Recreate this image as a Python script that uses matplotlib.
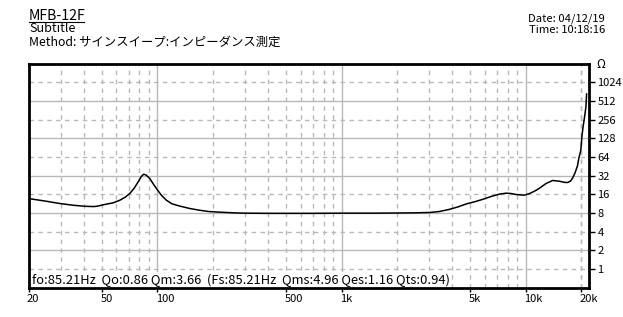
import matplotlib
matplotlib.use("Agg")
import matplotlib.pyplot as plt
from matplotlib.lines import Line2D
import matplotlib.transforms as mtrans
import numpy as np

plt.rcParams['font.family'] = ['Noto Sans CJK JP', 'DejaVu Sans']
plt.rcParams['lines.scale_dashes'] = False

title = "MFB-12F"
subtitle = "Subtitle"
method = "Method: サインスイープ:インピーダンス測定"
date_txt = "Date: 04/12/19"
time_txt = "Time: 10:18:16"
info_txt = "fo:85.21Hz  Qo:0.86 Qm:3.66  (Fs:85.21Hz  Qms:4.96 Qes:1.16 Qts:0.94)"

freq = [20, 25, 29.6, 35, 40.5, 45, 47, 51, 57.7, 62.7, 67, 70.9, 75, 78.7, 82, 84.5,
        87, 91.1, 95, 99, 105, 112, 120, 132, 150, 170, 190, 218, 260, 300, 400, 500,
        700, 1000, 1500, 2000, 2500, 3000, 3400, 3850, 4300, 4740, 5300, 5840, 6500,
        7190, 7820, 8300, 8860, 9820, 10500, 11200, 11800, 12900, 14000, 15200, 16200,
        16900, 17500, 17900, 18500, 19100, 19400, 19900, 20200, 20500, 20800, 21200, 21400]
imped = [13.6, 12.3, 11.3, 10.6, 10.2, 10.1, 10.2, 10.8, 11.6, 12.8, 14.3, 16.4, 20.0, 25.2, 31.0, 33.6,
         32.5, 28.6, 23.5, 19.7, 15.5, 12.8, 11.2, 10.3, 9.4, 8.8, 8.4, 8.2, 8.0, 7.9, 7.85, 7.85,
         7.85, 7.9, 7.9, 7.95, 8.0, 8.1, 8.4, 9.1, 10.0, 11.1, 12.1, 13.2, 14.7,
         16.0, 16.6, 16.4, 15.8, 15.4, 16.4, 18.0, 19.7, 23.8, 26.6, 25.9, 24.8,
         24.7, 26.0, 28.6, 35.0, 46.0, 60.0, 82.0, 140.0, 200.0, 265.0, 400.0, 660.0]

xtick_vals = [20, 50, 100, 500, 1000, 5000, 10000, 20000]
xtick_labels = ["20", "50", "100", "500", "1k", "5k", "10k", "20k"]
ytick_vals = [1, 2, 4, 8, 16, 32, 64, 128, 256, 512, 1024]
ytick_labels = [str(v) for v in ytick_vals]

W, H = 623, 317
fig = plt.figure(figsize=(W / 100, H / 100), dpi=100)
L, R, T, B = 28.5, 589, 63.5, 287.5
ax = fig.add_axes([L / W, 1 - B / H, (R - L) / W, (B - T) / H])
ax.set_xscale('log')
ax.set_yscale('log', base=2)
ax.set_xlim(20, 22050)
ax.set_ylim(0.5, 2048)

gcol = '#b8b8b8'
dash = (0, (3.2, 3.2))
# vertical grid
for dec in [10, 100, 1000, 10000]:
    for m in range(1, 10):
        f = dec * m
        if f <= 20 or f > 22050:
            continue
        if m == 1:
            ax.axvline(f, color=gcol, lw=1.0, zorder=1)
        else:
            ax.axvline(f, color=gcol, lw=1.0, linestyle=dash, zorder=1)
ax.axvline(20000, color=gcol, lw=1.0, linestyle=dash, zorder=1)
# horizontal grid
for i, v in enumerate(ytick_vals):
    if i % 2 == 1:
        ax.axhline(v, color=gcol, lw=1.0, zorder=1)
    else:
        ax.axhline(v, color=gcol, lw=1.0, linestyle=dash, zorder=1)

ax.plot(freq, imped, color='black', lw=1.1, zorder=3)

for s in ax.spines.values():
    s.set_linewidth(2.0)
    s.set_color('black')
    s.set_zorder(5)

ax.set_xticks(xtick_vals)
ax.set_xticklabels(xtick_labels)
ax.xaxis.set_minor_locator(matplotlib.ticker.NullLocator())
ax.tick_params(axis='x', direction='out', length=3, width=1, pad=2, labelsize=8)
ax.yaxis.tick_right()
ax.set_yticks(ytick_vals)
ax.set_yticklabels(ytick_labels)
ax.yaxis.set_minor_locator(matplotlib.ticker.NullLocator())
ax.tick_params(axis='y', direction='out', length=4, width=1, pad=2, labelsize=8)
offset = mtrans.ScaledTranslation(-1.5 / 100, 0, fig.dpi_scale_trans)
for lbl in ax.get_xticklabels():
    lbl.set_horizontalalignment('left')
    lbl.set_transform(lbl.get_transform() + offset)

ax.text(0.006, 0.017, info_txt, transform=ax.transAxes, fontsize=9.3, va='baseline', ha='left',
        zorder=4, bbox=dict(facecolor='white', edgecolor='none', pad=1.0))

def ft(x, y, s, **kw):
    return fig.text(x / W, 1 - y / H, s, va='baseline', **kw)

ft(29, 19.5, title, fontsize=10.2)
fig.add_artist(Line2D([29 / W, 84 / W], [1 - 21.5 / H, 1 - 21.5 / H], color='black', lw=0.8))
ft(29, 32, subtitle, fontsize=9.1)
ft(29, 46, method, fontsize=8.9)
ft(605, 21.5, date_txt, fontsize=8.1, ha='right')
ft(605, 33, time_txt, fontsize=8.1, ha='right')
ft(596, 68, "Ω", fontsize=8.5)

fig.savefig("out.png", dpi=100, facecolor='white')
